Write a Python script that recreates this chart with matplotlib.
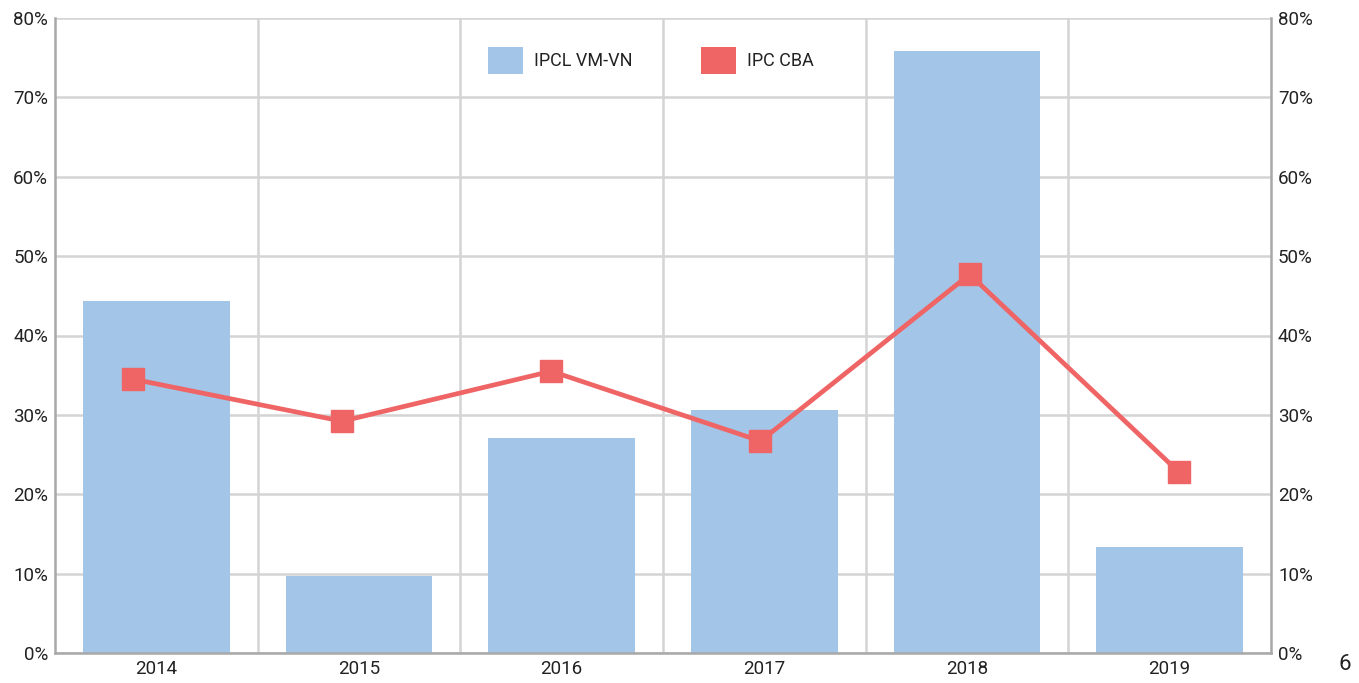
import matplotlib
matplotlib.use("Agg")
import matplotlib.pyplot as plt
import numpy as np
from matplotlib.patches import Patch

years = ["2014", "2015", "2016", "2017", "2018", "2019"]
ipcl_vm_vn = [44.3, 9.7, 27.1, 30.6, 75.9, 13.3]
ipc_cba = [34.5, 29.2, 35.5, 26.7, 47.7, 22.8]
yticks = [0, 10, 20, 30, 40, 50, 60, 70, 80]
ytick_labels = [f"{v}%" for v in yticks]

bar_color = "#a3c5e7"
line_color = "#ef6566"
grid_color = "#d4d4d4"
spine_color = "#a8a8a8"

plt.rcParams['font.family'] = ['Roboto', 'DejaVu Sans']

fig = plt.figure(figsize=(13.59, 6.83), dpi=100)
ax = fig.add_axes([55/1359, 30/683, (1271-55)/1359, (653-18)/683])

x = np.arange(len(years))
ax.bar(x, ipcl_vm_vn, width=0.725, color=bar_color, zorder=2)

# line series is drawn on a slightly different horizontal scale in the source
line_x = -0.115 + x * 1.032
ax.plot(line_x, ipc_cba, color=line_color, lw=3.4, marker='s', markersize=15.5,
        zorder=3, solid_joinstyle='miter')

ax.set_xlim(-0.5, len(years) - 0.5)
ax.set_ylim(0, 80)
ax.set_yticks(yticks)
ax.set_yticklabels(ytick_labels)
ax.set_xticks(x)
ax.set_xticklabels(years)
ax.set_xticks(np.arange(len(years) - 1) + 0.5, minor=True)

ax.grid(axis='y', color=grid_color, lw=1.8, zorder=0)
ax.grid(axis='x', which='minor', color=grid_color, lw=1.8, zorder=0)
ax.grid(axis='x', which='major', visible=False)

ax.tick_params(axis='both', which='both', length=0, labelsize=13.5, colors='#222222')
ax.tick_params(axis='x', pad=5)
ax.tick_params(axis='y', pad=5, labelright=True, right=False)

ax.spines['top'].set_visible(False)
for s in ['left', 'bottom', 'right']:
    ax.spines[s].set_color(spine_color)
    ax.spines[s].set_linewidth(1.8)

handles = [Patch(facecolor=bar_color, edgecolor='none', label='IPCL VM-VN'),
           Patch(facecolor=line_color, edgecolor='none', label='IPC CBA')]
leg = ax.legend(handles=handles, loc='upper center', bbox_to_anchor=(0.49, 0.98),
                ncol=2, frameon=False, fontsize=13, handlelength=1.95,
                handleheight=1.9, handletextpad=0.6, columnspacing=3.8)
for t in leg.get_texts():
    t.set_color('#222222')

fig.text(1345/1359, 1 - 664/683, "6", fontsize=16, ha='center', va='center', color='#222222')

fig.savefig("out.png", dpi=100)
